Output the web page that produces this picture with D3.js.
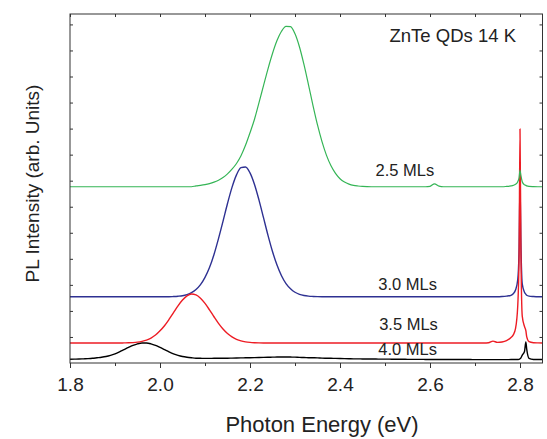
<!DOCTYPE html>
<html>
<head>
<meta charset="utf-8">
<script src="https://cdn.jsdelivr.net/npm/d3@7"></script>
<style>
  body { margin: 0; background: #fff; }
  svg text { font-family: "Liberation Sans", Arial, sans-serif; fill: #222; }
</style>
</head>
<body>
<div id="chart"></div>
<script>
// photon energy grid (eV)
const energy = [
  1.80, 1.81, 1.82, 1.83, 1.84, 1.85, 1.86, 1.87, 1.88, 1.89,
  1.90, 1.91, 1.92, 1.93, 1.94, 1.95, 1.96, 1.97, 1.98, 1.99,
  2.00, 2.01, 2.02, 2.03, 2.04, 2.05, 2.06, 2.07, 2.08, 2.09,
  2.10, 2.11, 2.12, 2.13, 2.14, 2.15, 2.16, 2.17, 2.18, 2.19,
  2.20, 2.21, 2.22, 2.23, 2.24, 2.25, 2.26, 2.27, 2.28, 2.29,
  2.30, 2.31, 2.32, 2.33, 2.34, 2.35, 2.36, 2.37, 2.38, 2.39,
  2.40, 2.41, 2.42, 2.43, 2.44, 2.45, 2.46, 2.47, 2.48, 2.49,
  2.50, 2.51, 2.52, 2.53, 2.54, 2.55, 2.56, 2.57, 2.58, 2.59,
  2.60, 2.61, 2.62, 2.63, 2.64, 2.65, 2.66, 2.67, 2.68, 2.69,
  2.70, 2.71, 2.72, 2.73, 2.74, 2.75, 2.76, 2.77, 2.78,
  2.785, 2.79, 2.795, 2.798, 2.80, 2.802, 2.805, 2.81, 2.813, 2.815, 2.82, 2.83, 2.84, 2.85
];

// PL intensity, arb. units (offset stacked)
const ml40 = [
  3.6, 3.7, 3.8, 4.0, 4.2, 4.5, 5.0, 5.5, 6.2, 7.3,
  8.8, 10.7, 12.8, 14.9, 16.9, 18.4, 19.2, 19.2, 18.4, 16.9,
  14.9, 12.8, 10.7, 8.8, 7.3, 6.2, 5.5, 5.0, 4.6, 4.5,
  4.4, 4.4, 4.5, 4.5, 4.6, 4.6, 4.7, 4.8, 4.9, 5.0,
  5.1, 5.2, 5.3, 5.4, 5.5, 5.6, 5.7, 5.8, 5.8, 5.7,
  5.6, 5.4, 5.3, 5.1, 5.0, 4.9, 4.7, 4.6, 4.5, 4.4,
  4.3, 4.2, 4.1, 4.0, 4.0, 3.9, 3.9, 3.8, 3.8, 3.7,
  3.7, 3.7, 3.6, 3.6, 3.6, 3.5, 3.5, 3.5, 3.5, 3.4,
  3.4, 3.4, 3.4, 3.4, 3.3, 3.3, 3.3, 3.3, 3.3, 3.3,
  3.2, 3.2, 3.2, 3.2, 3.2, 3.2, 3.2, 3.2, 3.3,
  3.3, 3.3, 3.4, 3.5, 4.0, 5.0, 7.5, 11, 20.2, 13, 4.5, 3.4, 3.3, 3.3
];

const ml35 = [
  19.2, 19.2, 19.2, 19.2, 19.2, 19.2, 19.2, 19.2, 19.2, 19.2,
  19.2, 19.2, 19.3, 19.4, 19.6, 20.0, 20.8, 22.0, 23.9, 26.8,
  30.9, 35.8, 41.8, 48.3, 54.8, 60.4, 64.4, 66.2, 65.4, 62.2,
  57.2, 51.0, 44.4, 38.1, 32.7, 28.3, 25.0, 22.7, 21.2, 20.3,
  19.8, 19.5, 19.3, 19.2, 19.2, 19.2, 19.2, 19.2, 19.2, 19.2,
  19.2, 19.2, 19.2, 19.2, 19.2, 19.2, 19.2, 19.2, 19.2, 19.2,
  19.2, 19.2, 19.2, 19.2, 19.2, 19.2, 19.2, 19.2, 19.2, 19.2,
  19.2, 19.2, 19.2, 19.2, 19.2, 19.2, 19.2, 19.2, 19.2, 19.2,
  19.2, 19.2, 19.2, 19.2, 19.2, 19.2, 19.2, 19.2, 19.2, 19.2,
  19.2, 19.2, 19.2, 19.4, 21.0, 19.8, 20.2, 21.5, 24.5,
  27, 33, 55, 105, 224.6, 110, 45, 35, 31, 25, 20.5, 19.5, 19.3, 19.2
];

const ml30 = [
  63.6, 63.6, 63.6, 63.6, 63.6, 63.6, 63.6, 63.6, 63.6, 63.6,
  63.6, 63.6, 63.6, 63.6, 63.6, 63.6, 63.6, 63.6, 63.6, 63.6,
  63.6, 63.6, 63.6, 63.8, 64.1, 64.6, 65.7, 67.5, 70.5, 75.2,
  82.2, 91.6, 104.2, 119.4, 136.0, 153.1, 168.6, 180.6, 187.5, 188.1,
  182.5, 171.4, 156.4, 139.5, 122.5, 107.0, 94.0, 83.7, 76.2, 71.3,
  67.9, 65.9, 64.8, 64.2, 63.9, 63.7, 63.6, 63.6, 63.6, 63.6,
  63.6, 63.6, 63.6, 63.6, 63.6, 63.6, 63.6, 63.6, 63.6, 63.6,
  63.6, 63.6, 63.6, 63.6, 63.6, 63.6, 63.6, 63.6, 63.6, 63.6,
  63.6, 63.6, 63.6, 63.6, 63.6, 63.6, 63.6, 63.6, 63.6, 63.6,
  63.6, 63.6, 63.6, 63.6, 63.6, 63.6, 63.8, 64.2, 65.0,
  66.5, 70, 80, 110, 172, 115, 76, 68, 66, 65, 64.2, 63.8, 63.6, 63.6
];

const ml25 = [
  169.2, 169.2, 169.2, 169.2, 169.2, 169.2, 169.2, 169.2, 169.2, 169.2,
  169.2, 169.2, 169.2, 169.2, 169.2, 169.2, 169.2, 169.2, 169.2, 169.2,
  169.2, 169.2, 169.2, 169.2, 169.2, 169.2, 169.2, 169.2, 170.0, 170.5,
  171.2, 172.2, 173.6, 175.5, 178.0, 181.5, 186.0, 191.5, 199.0, 209.0,
  221.0, 234.0, 249.9, 266.2, 282.4, 297.1, 309.5, 318.4, 323.1, 322.8,
  316.0, 303.3, 286.3, 267.0, 247.1, 228.5, 212.5, 199.3, 189.3, 182.0,
  176.9, 173.7, 171.7, 170.5, 169.9, 169.5, 169.3, 169.2, 169.2, 169.2,
  169.2, 169.2, 169.2, 169.2, 169.2, 169.2, 169.2, 169.2, 169.2, 169.2,
  169.6, 172.0, 169.7, 169.2, 169.2, 169.2, 169.2, 169.2, 169.2, 169.2,
  169.2, 169.2, 169.2, 169.2, 169.2, 169.2, 169.2, 169.5, 170.0,
  170.5, 171.5, 174, 178, 185.2, 180, 174, 171, 170.5, 170, 169.5, 169.3, 169.2, 169.2
];

const seriesNames = ["4.0 MLs", "3.0 MLs", "3.5 MLs", "2.5 MLs"];
const seriesColors = ["#000000", "#2e3192", "#ed1c24", "#35b556"];
const seriesValues = [ml40, ml30, ml35, ml25];

const xMajorTicks = [1.8, 2.0, 2.2, 2.4, 2.6, 2.8];
const xMinorTicks = [1.9, 2.1, 2.3, 2.5, 2.7];
const yTicks = [25, 50, 75, 100, 125, 150, 175, 200, 225, 250, 275, 300, 325];

const width = 547, height = 439;
const margin = {top: 14, right: 4.5, bottom: 76, left: 70};
const w = width - margin.left - margin.right;
const h = height - margin.top - margin.bottom;

const svg = d3.select("#chart").append("svg")
    .attr("width", width)
    .attr("height", height);

const x = d3.scaleLinear().domain([1.8, 2.85]).range([0, w]);
const y = d3.scaleLinear().domain([0, 335]).range([h, 0]);

const g = svg.append("g")
    .attr("transform", "translate(" + margin.left + "," + margin.top + ")");

g.append("clipPath").attr("id", "plot-clip")
  .append("rect").attr("width", w).attr("height", h);

// curves
const line = d3.line()
    .x(function(d) { return x(d[0]); })
    .y(function(d) { return y(d[1]); })
    .curve(d3.curveMonotoneX);

const curves = g.append("g").attr("clip-path", "url(#plot-clip)");
seriesValues.forEach(function(vals, i) {
    curves.append("path")
        .datum(energy.map(function(e, j) { return [e, vals[j]]; }))
        .attr("fill", "none")
        .attr("stroke", seriesColors[i])
        .attr("stroke-width", i === 3 ? 1.2 : 1.4)
        .attr("stroke-linejoin", "round")
        .attr("d", line);
});

// bottom axis (outward ticks)
const fmt = d3.format(".1f");
const xAxis = g.append("g")
    .attr("transform", "translate(0," + h + ")")
    .call(d3.axisBottom(x).tickValues(xMajorTicks).tickFormat(fmt).tickSize(5).tickPadding(10));
xAxis.select(".domain").remove();
xAxis.selectAll("text").style("font-size", "19px").attr("fill", "#222");
xAxis.selectAll("line").attr("stroke", "#333");

const xMinor = g.append("g")
    .attr("transform", "translate(0," + h + ")")
    .call(d3.axisBottom(x).tickValues(xMinorTicks).tickFormat("").tickSize(3));
xMinor.select(".domain").remove();
xMinor.selectAll("line").attr("stroke", "#333");

// top axis (inward ticks)
const xTop = g.append("g")
    .call(d3.axisTop(x).tickValues(xMajorTicks.concat(xMinorTicks)).tickFormat("").tickSize(-3));
xTop.select(".domain").remove();
xTop.selectAll("line").attr("stroke", "#333");

// left and right axes (inward ticks, no labels)
const yLeft = g.append("g")
    .call(d3.axisLeft(y).tickValues(yTicks).tickFormat("").tickSize(-3));
yLeft.select(".domain").remove();
yLeft.selectAll("line").attr("stroke", "#333");

const yRight = g.append("g")
    .attr("transform", "translate(" + w + ",0)")
    .call(d3.axisRight(y).tickValues(yTicks).tickFormat("").tickSize(-3));
yRight.select(".domain").remove();
yRight.selectAll("line").attr("stroke", "#333");

// frame
g.append("rect")
    .attr("width", w)
    .attr("height", h)
    .attr("fill", "none")
    .attr("stroke", "#333")
    .attr("stroke-width", 1);

// series labels
const labelPos = [
    {name: "4.0 MLs", e: 2.485, v: 7.8},
    {name: "3.0 MLs", e: 2.485, v: 70},
    {name: "3.5 MLs", e: 2.487, v: 31.5},
    {name: "2.5 MLs", e: 2.479, v: 179.5}
];
g.selectAll(".ml-label")
    .data(labelPos)
    .enter().append("text")
    .attr("class", "ml-label")
    .attr("x", function(d) { return x(d.e); })
    .attr("y", function(d) { return y(d.v); })
    .style("font-size", "16.5px")
    .text(function(d) { return d.name; });

// title inside the plot
g.append("text")
    .attr("x", x(2.8) - 4)
    .attr("y", 28)
    .attr("text-anchor", "end")
    .style("font-size", "18.5px")
    .text("ZnTe QDs 14 K");

// axis titles
svg.append("text")
    .attr("x", 322)
    .attr("y", 432)
    .attr("text-anchor", "middle")
    .style("font-size", "22px")
    .text("Photon Energy (eV)");

svg.append("text")
    .attr("transform", "translate(39,183.5) rotate(-90)")
    .attr("text-anchor", "middle")
    .style("font-size", "19px")
    .text("PL Intensity (arb. Units)");
</script>
</body>
</html>
